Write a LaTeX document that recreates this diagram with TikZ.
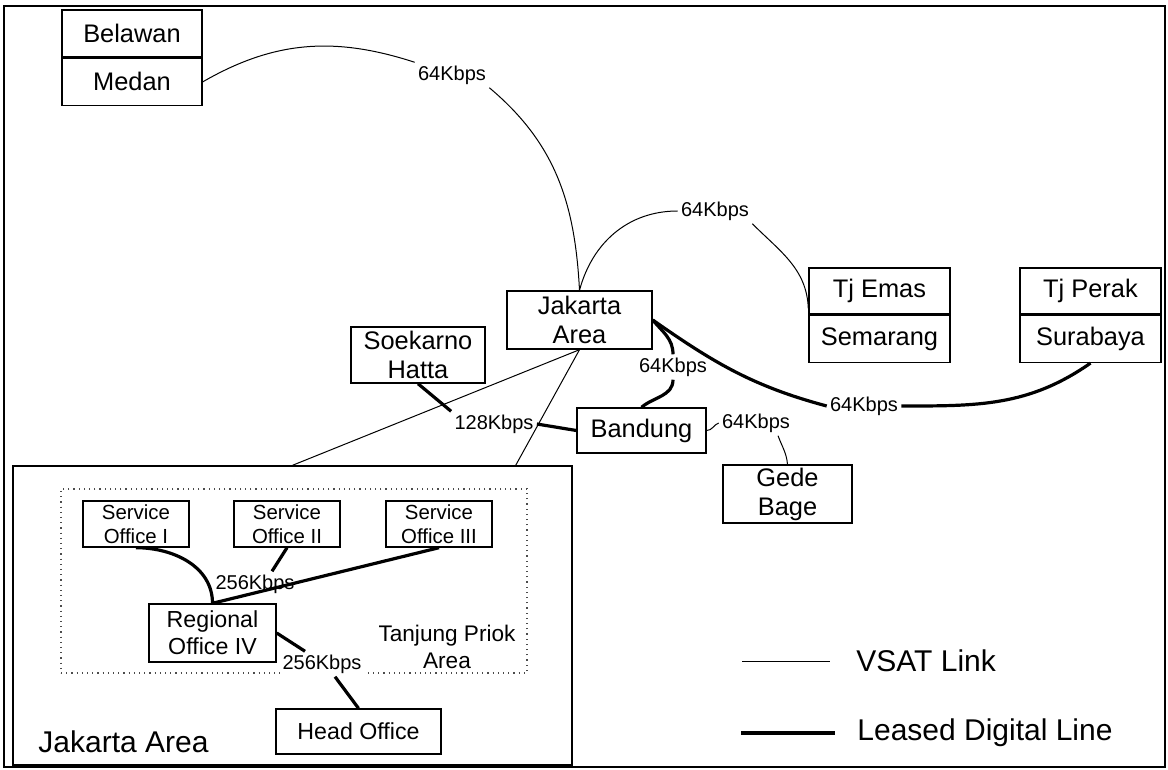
\documentclass[tikz,border=0pt]{standalone}
\usepackage{fontspec}
\setmainfont{Liberation Sans}
\usetikzlibrary{positioning,calc}
\tikzset{
  site/.style={rectangle, draw=black, line width=0.7pt, align=center, inner sep=0pt,
               font=\fontsize{12.7}{14.5}\selectfont},
  office/.style={site, font=\fontsize{10.2}{12}\selectfont},
  regbox/.style={site, font=\fontsize{11.6}{13.4}\selectfont},
  kbps/.style={fill=white, inner sep=1.5pt, font=\fontsize{10}{12}\selectfont},
  legendtxt/.style={anchor=west, inner sep=0pt, font=\fontsize{15}{17}\selectfont},
  vsat/.style={line width=0.5pt},
  leased/.style={line width=1.6pt},
}
\begin{document}
\begin{tikzpicture}[x=0.5pt, y=0.5pt]
  \useasboundingbox (0,0) rectangle (1168,-770);
  \draw[line width=0.6pt] (4,-6) rectangle (1165,-767);

  \node[site, minimum width=70pt, minimum height=23.5pt] (belawan) at (132,-33.5) {Belawan};
  \node[site, minimum width=70pt, minimum height=23.5pt, below=0pt of belawan] (medan) {Medan};
  \node[site, minimum width=72.5pt, minimum height=29pt] (jakarta) at (579.5,-320) {Jakarta\\Area};
  \node[site, minimum width=67pt, minimum height=28pt] (soekarno) at (418,-355) {Soekarno\\Hatta};
  \node[site, minimum width=64.5pt, minimum height=22.5pt] (bandung) at (641.5,-430.5) {Bandung};
  \node[site, minimum width=64.5pt, minimum height=29pt] (gede) at (787.5,-494) {Gede\\Bage};
  \node[site, minimum width=70.5pt, minimum height=23pt] (tjemas) at (879.5,-291) {Tj Emas};
  \node[site, minimum width=70.5pt, minimum height=23.5pt, below=0pt of tjemas] (semarang) {Semarang};
  \node[site, minimum width=70.5pt, minimum height=23pt] (tjperak) at (1090.5,-291) {Tj Perak};
  \node[site, minimum width=70.5pt, minimum height=23.5pt, below=0pt of tjperak] (surabaya) {Surabaya};

  \node[draw=black, line width=0.7pt, minimum width=279.5pt, minimum height=149.5pt] (jakbox) at (292.5,-615.5) {};
  \node[draw=black!70, dotted, line width=0.6pt, minimum width=233pt, minimum height=92pt] (priok) at (294,-581) {};
  \node[legendtxt] (jaklbl) at (38,-742) {Jakarta Area};
  \node[align=center, inner sep=0pt, font=\fontsize{11.3}{13.5}\selectfont] (priollbl) at (447,-647) {Tanjung Priok\\Area};

  \node[office, minimum width=53pt, minimum height=23pt] (so1) at (136,-524) {Service\\Office I};
  \node[office, minimum width=53pt, minimum height=23pt] (so2) at (287,-524) {Service\\Office II};
  \node[office, minimum width=53pt, minimum height=23pt] (so3) at (439,-524) {Service\\Office III};
  \node[regbox, minimum width=63.5pt, minimum height=29pt] (regional) at (212.5,-633) {Regional\\Office IV};
  \node[regbox, minimum width=82.5pt, minimum height=22.5pt] (head) at (358.5,-731.5) {Head Office};

  \node[kbps] (lmed) at (452,-75) {64Kbps};
  \node[kbps] (lemas) at (715,-211) {64Kbps};
  \node[kbps] (lsura) at (864,-406) {64Kbps};
  \node[kbps] (lband) at (673,-367) {64Kbps};
  \node[kbps] (lgede) at (756,-423) {64Kbps};
  \node[kbps] (lsoek) at (494,-424) {128Kbps};
  \node[kbps] (lso) at (255,-584) {256Kbps};
  \node[kbps] (lhead) at (322,-664) {256Kbps};

  \draw[vsat] (medan.east) to[out=30,in=162] (lmed.north west);
  \draw[vsat] (lmed.south east) to[out=-40,in=93] (jakarta.north);
  \draw[vsat] (jakarta.north) to[out=75,in=180] (lemas.west);
  \draw[vsat] (lemas.south east) to[out=-45,in=92] ($(tjemas.south west)+(0,6)$);
  \draw[vsat] (jakarta.south) -- (jakbox.north);
  \draw[vsat] (jakarta.south) -- ($(jakbox.north east)+(-57,0)$);
  \draw[vsat] (bandung.east) to[out=0,in=200] (lgede.west);
  \draw[vsat] (lgede.-30) to[out=-70,in=95] (gede.north);

  \draw[leased] (jakarta.east) to[out=-35,in=165] (lsura.west);
  \draw[leased] (lsura.east) to[out=0,in=-145] (surabaya.south);
  \draw[leased] (jakarta.east) to[out=-50,in=90] (lband.north);
  \draw[leased] (lband.south) to[out=-90,in=40] (bandung.north);
  \draw[leased] (soekarno.south) -- (lsoek.north west);
  \draw[leased] (lsoek.east) -- (bandung.west);
  \draw[leased] (so1.south) to[out=0,in=90] (regional.north);
  \draw[leased] (so2.south) -- ($(lso.north)+(17,0)$);
  \draw[leased] (so3.south) -- (regional.north);
  \draw[leased] (regional.east) -- ($(lhead.north)+(-17,0)$);
  \draw[leased] ($(lhead.south)+(13,0)$) -- (head.north);

  \node[legendtxt] (vsatlbl) at (856,-661) {VSAT Link};
  \node[legendtxt] (leasedlbl) at (857,-733) {Leased Digital Line};
  \coordinate (v0) at (742,-661);
  \coordinate (l0) at (741,-733);
  \draw[vsat, shorten >=13pt] (v0) -- (vsatlbl.west);
  \draw[leased, shorten >=11pt] (l0) -- (leasedlbl.west);
\end{tikzpicture}
\end{document}
